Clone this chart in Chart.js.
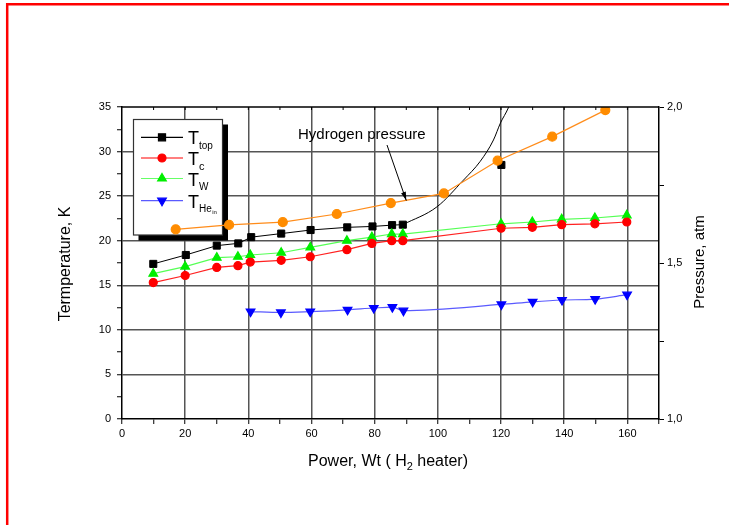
<!DOCTYPE html>
<html>
<head>
<meta charset="utf-8">
<title>Temperatures and hydrogen pressure vs heater power</title>
<script src="https://cdn.jsdelivr.net/npm/chart.js@4.4.0/dist/chart.umd.min.js"></script>
<style>
  html, body { margin: 0; padding: 0; background: #fff; }
  canvas { display: block; }
</style>
</head>
<body>
<canvas id="chart" width="729" height="525"></canvas>
<script>
// Heater power (W) and measured temperatures (K)
var powerTop = [9.9, 20.2, 30.0, 36.8, 40.9, 50.4, 59.7, 71.3, 79.3, 85.5, 88.9, 104, 120.1];
var tTop     = [17.4, 18.4, 19.45, 19.7, 20.4, 20.8, 21.2, 21.5, 21.6, 21.75, 21.8, null, 28.5];

var powerC = [9.9, 20.0, 30.0, 36.7, 40.6, 50.4, 59.6, 71.2, 79.1, 85.4, 88.9, 120.0, 129.9, 139.2, 149.7, 159.8];
var tC     = [15.3, 16.1, 17.0, 17.2, 17.6, 17.8, 18.2, 19.0, 19.7, 20.0, 20.0, 21.4, 21.5, 21.8, 21.9, 22.1];

var powerW = [9.9, 20.0, 30.0, 36.7, 40.6, 50.4, 59.6, 71.2, 79.1, 85.4, 88.9, 120.0, 129.9, 139.2, 149.7, 159.8];
var tW     = [16.3, 17.1, 18.1, 18.2, 18.4, 18.65, 19.25, 20.0, 20.4, 20.75, 20.75, 21.9, 22.1, 22.4, 22.55, 22.85];

var powerHe = [40.7, 50.3, 59.6, 71.4, 79.7, 85.6, 89.1, 120.1, 130.0, 139.3, 149.8, 159.9];
var tHe     = [12.05, 11.95, 12.05, 12.25, 12.45, 12.55, 12.15, 12.85, 13.15, 13.35, 13.45, 13.95];

// Hydrogen pressure (atm), right axis
var powerP = [17.0, 33.9, 50.9, 68.0, 85.1, 101.9, 118.9, 136.2, 153.0];
var pH2    = [1.608, 1.622, 1.631, 1.657, 1.692, 1.723, 1.828, 1.905, 1.990];

// steep black curve leaving the last T_top point
var curvePower = [88.9, 99.7, 108.1, 113.4, 117.6, 119.8, 122.3, 124.5];
var curveT     = [21.8, 23.8, 26.8, 28.9, 31.3, 33.2, 34.9, 37.0];

// tick labels
var pressureTicks = [1.0, 1.5, 2.0];
var pressureTickText = ['1,0', '1,5', '2,0'];

var FONT = '"Liberation Sans", Arial, sans-serif';

function pairs(xs, ys) {
    var out = [];
    for (var i = 0; i < xs.length; i++) {
        out.push({ x: xs[i], y: ys[i] });
    }
    return out;
}

var GRID = '#555555';
var NONE = 'rgba(0,0,0,0)';

// legend rows: sample line, marker, "T" with subscript
var legendRows = [
    { sub: 'top', subsub: '', line: '#000000', fill: '#000000', style: 'rect', radius: 5, rotation: 0, subFont: 10 },
    { sub: 'c', subsub: '', line: '#ff0000', fill: '#ff0000', style: 'circle', radius: 4, rotation: 0, subFont: 11 },
    { sub: 'W', subsub: '', line: '#66ff66', fill: '#00ee00', style: 'triangle', radius: 5, rotation: 0, subFont: 10 },
    { sub: 'He', subsub: 'in', line: '#5a5aff', fill: '#0000ff', style: 'triangle', radius: 5, rotation: 180, subFont: 10 }
];

var boxPlugin = {
    id: 'legendBox',
    beforeDatasetsDraw: function (chart) {
        var ctx = chart.ctx;
        var bx = 133.5, by = 119.5, bw = 89, bh = 115.5;
        ctx.save();
        // shadow
        ctx.fillStyle = '#000';
        ctx.fillRect(bx + 5, by + 5, bw + 0.5, bh + 0.5);
        ctx.fillStyle = '#fff';
        ctx.fillRect(bx, by, bw, bh);
        ctx.strokeStyle = '#333';
        ctx.lineWidth = 1.2;
        ctx.strokeRect(bx, by, bw, bh);

        var rowY = [137.3, 158, 178.5, 200.7];
        legendRows.forEach(function (r, i) {
            var y = rowY[i];
            ctx.strokeStyle = r.line;
            ctx.lineWidth = 1.2;
            ctx.beginPath();
            ctx.moveTo(141, y);
            ctx.lineTo(183, y);
            ctx.stroke();
            ctx.fillStyle = r.fill;
            ctx.strokeStyle = r.fill;
            Chart.helpers.drawPoint(ctx, { pointStyle: r.style, radius: r.radius, rotation: r.rotation, borderWidth: 1 }, 162, y);

            ctx.fillStyle = '#000';
            ctx.textAlign = 'left';
            ctx.textBaseline = 'alphabetic';
            ctx.font = '18px ' + FONT;
            ctx.fillText('T', 188, y + 7);
            ctx.font = r.subFont + 'px ' + FONT;
            ctx.fillText(r.sub, 199, y + 11.5);
            if (r.subsub) {
                var w = ctx.measureText(r.sub).width;
                ctx.font = '6px ' + FONT;
                ctx.fillText(r.subsub, 199 + w + 0.5, y + 13.5);
            }
        });
        ctx.restore();
    },
    afterDraw: function (chart) {
        var ctx = chart.ctx;
        var a = chart.chartArea;
        var xs = chart.scales.x, ys = chart.scales.y2;
        ctx.save();

        // frame top
        ctx.strokeStyle = '#000';
        ctx.lineWidth = 1.5;
        ctx.beginPath();
        ctx.moveTo(a.left, a.top);
        ctx.lineTo(a.right, a.top);
        ctx.stroke();

        // small ticks along the top edge
        ctx.lineWidth = 1;
        for (var v = 10; v < 170; v += 10) {
            var px = xs.getPixelForValue(v);
            ctx.beginPath();
            ctx.moveTo(px, a.top);
            ctx.lineTo(px, a.top + 3);
            ctx.stroke();
        }

        // "Hydrogen pressure" note with arrow onto the pressure curve
        ctx.fillStyle = '#000';
        ctx.font = '15px ' + FONT;
        ctx.textAlign = 'left';
        ctx.textBaseline = 'alphabetic';
        ctx.fillText('Hydrogen pressure', 298, 138.5);
        var tx = xs.getPixelForValue(90), ty = ys.getPixelForValue(1.700);
        var sx = 387, sy = 145;
        ctx.lineWidth = 1;
        ctx.beginPath();
        ctx.moveTo(sx, sy);
        ctx.lineTo(tx, ty);
        ctx.stroke();
        var ang = Math.atan2(ty - sy, tx - sx);
        ctx.beginPath();
        ctx.moveTo(tx, ty);
        ctx.lineTo(tx - 9 * Math.cos(ang - 0.28), ty - 9 * Math.sin(ang - 0.28));
        ctx.lineTo(tx - 9 * Math.cos(ang + 0.28), ty - 9 * Math.sin(ang + 0.28));
        ctx.closePath();
        ctx.fill();

        // axis titles
        ctx.font = '16px ' + FONT;
        ctx.textAlign = 'center';
        ctx.textBaseline = 'middle';
        ctx.save();
        ctx.translate(66, 264);
        ctx.rotate(-Math.PI / 2);
        ctx.fillText('Termperature, K', 0, 0);
        ctx.restore();

        ctx.save();
        ctx.font = '15px ' + FONT;
        ctx.translate(700, 262);
        ctx.rotate(-Math.PI / 2);
        ctx.fillText('Pressure, atm', 0, 0);
        ctx.restore();

        // bottom title with subscript
        ctx.textAlign = 'left';
        ctx.textBaseline = 'alphabetic';
        var p1 = 'Power, Wt ( H', p2 = '2', p3 = ' heater)';
        ctx.font = '16px ' + FONT;
        var w1 = ctx.measureText(p1).width, w3 = ctx.measureText(p3).width;
        ctx.font = '11px ' + FONT;
        var w2 = ctx.measureText(p2).width;
        var x0 = 388 - (w1 + w2 + w3) / 2;
        ctx.font = '16px ' + FONT;
        ctx.fillText(p1, x0, 466);
        ctx.font = '11px ' + FONT;
        ctx.fillText(p2, x0 + w1, 470);
        ctx.font = '16px ' + FONT;
        ctx.fillText(p3, x0 + w1 + w2, 466);

        // page frame
        ctx.strokeStyle = '#ff0000';
        ctx.lineWidth = 2.5;
        ctx.beginPath();
        ctx.moveTo(7.2, 525);
        ctx.lineTo(7.2, 4.2);
        ctx.lineTo(729, 4.2);
        ctx.stroke();
        ctx.restore();
    }
};

var config = {
    type: 'line',
    data: {
        datasets: [
            {
                data: pairs(powerP, pH2), yAxisID: 'y2',
                borderColor: '#ff8c1a', borderWidth: 1.2,
                pointStyle: 'circle', pointRadius: 4.5,
                pointBackgroundColor: '#ff8c00', pointBorderColor: '#ff8c00'
            },
            {
                data: pairs(curvePower, curveT), yAxisID: 'y',
                borderColor: '#000', borderWidth: 1, pointRadius: 0,
                cubicInterpolationMode: 'monotone'
            },
            {
                data: pairs(powerHe, tHe), yAxisID: 'y',
                borderColor: '#5a5aff', borderWidth: 1.2,
                pointStyle: 'triangle', rotation: 180, pointRadius: 5,
                pointBackgroundColor: '#0000ff', pointBorderColor: '#0000ff',
                cubicInterpolationMode: 'monotone'
            },
            {
                data: pairs(powerC, tC), yAxisID: 'y',
                borderColor: '#ff2020', borderWidth: 1.2,
                pointStyle: 'circle', pointRadius: 4,
                pointBackgroundColor: '#ff0000', pointBorderColor: '#ff0000'
            },
            {
                data: pairs(powerW, tW), yAxisID: 'y',
                borderColor: '#55ff55', borderWidth: 1.2,
                pointStyle: 'triangle', pointRadius: 5,
                pointBackgroundColor: '#00ee00', pointBorderColor: '#00ee00'
            },
            {
                data: pairs(powerTop, tTop), yAxisID: 'y',
                borderColor: '#000', borderWidth: 1,
                pointStyle: 'rect', pointRadius: 5,
                pointBackgroundColor: '#000', pointBorderColor: '#000'
            }
        ]
    },
    options: {
        responsive: false,
        animation: false,
        layout: { padding: { top: 107, left: 0, right: 0, bottom: 0 } },
        plugins: {
            legend: { display: false },
            tooltip: { enabled: false }
        },
        elements: {
            line: { tension: 0 },
            point: { borderWidth: 1 }
        },
        scales: {
            x: {
                type: 'linear', min: 0, max: 170,
                afterFit: function (s) { s.height = 106; },
                ticks: {
                    stepSize: 10, autoSkip: false, maxRotation: 0, padding: 3,
                    color: '#000', font: { family: FONT, size: 11 },
                    callback: function (v) { return (v % 20 === 0 && v <= 160) ? String(v) : ''; }
                },
                grid: {
                    color: function (c) {
                        var v = c.tick ? c.tick.value : 0;
                        return (v % 20 === 0 && v > 0 && v < 170) ? GRID : NONE;
                    },
                    lineWidth: 1.5, tickColor: '#000', tickLength: 5, tickWidth: 1
                },
                border: { color: '#000', width: 1.5 }
            },
            y: {
                position: 'left', min: 0, max: 35,
                afterFit: function (s) { s.width = 122; },
                ticks: {
                    stepSize: 2.5, autoSkip: false, padding: 6,
                    color: '#000', font: { family: FONT, size: 11 },
                    callback: function (v) { return v % 5 === 0 ? String(v) : ''; }
                },
                grid: {
                    color: function (c) {
                        var v = c.tick ? c.tick.value : 0;
                        return (v % 5 === 0 && v > 0 && v < 35) ? GRID : NONE;
                    },
                    lineWidth: 1.5, tickColor: '#000', tickLength: 5, tickWidth: 1
                },
                border: { color: '#000', width: 1.5 }
            },
            y2: {
                position: 'right', min: 1, max: 2,
                afterFit: function (s) { s.width = 70; },
                ticks: {
                    stepSize: 0.25, autoSkip: false, padding: 3,
                    color: '#000', font: { family: FONT, size: 11 },
                    callback: function (v) {
                        var i = pressureTicks.indexOf(v);
                        return i >= 0 ? pressureTickText[i] : '';
                    }
                },
                grid: { drawOnChartArea: false, tickColor: '#000', tickLength: 5, tickWidth: 1 },
                border: { color: '#000', width: 1.5 }
            }
        }
    },
    plugins: [boxPlugin]
};

var chart = new Chart(document.getElementById('chart'), config);
</script>
</body>
</html>
